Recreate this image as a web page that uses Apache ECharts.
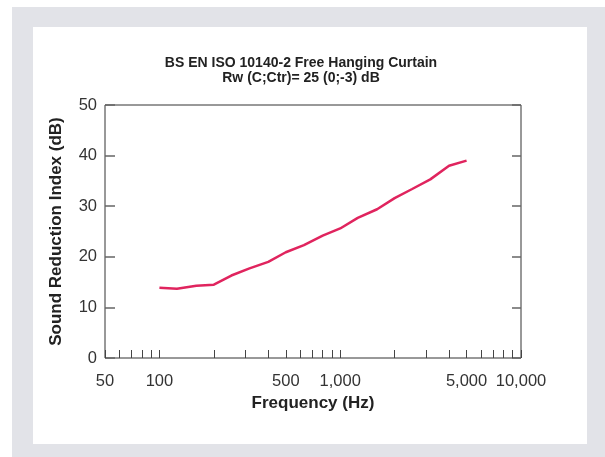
<!DOCTYPE html>
<html>
<head>
<meta charset="utf-8">
<script src="https://cdn.jsdelivr.net/npm/echarts@6/dist/echarts.min.js"></script>
<style>
html,body{margin:0;padding:0;background:#fff;}
#bg{position:absolute;left:12px;top:7px;width:593px;height:450px;background:#e2e3e8;}
#panel{position:absolute;left:33px;top:27px;width:554px;height:417px;background:#fff;}
#chart{position:absolute;left:0;top:0;width:605px;height:457px;}
</style>
</head>
<body>
<div id="bg"></div>
<div id="panel"></div>
<div id="chart"></div>
<script>
const titleLines = ['BS EN ISO 10140-2 Free Hanging Curtain', 'Rw (C;Ctr)= 25 (0;-3) dB'];
const frequencies = [100, 125, 160, 200, 250, 315, 400, 500, 630, 800, 1000, 1250, 1600, 2000, 2500, 3150, 4000, 5000];
const reduction = [13.9, 13.7, 14.3, 14.5, 16.3, 17.7, 19.0, 20.9, 22.3, 24.2, 25.6, 27.7, 29.4, 31.6, 33.4, 35.3, 38.0, 39.0];
const xTickValues = [50, 60, 70, 80, 90, 100, 200, 300, 400, 500, 600, 700, 800, 900, 1000, 2000, 3000, 4000, 5000, 6000, 7000, 8000, 9000, 10000];
const xLabelValues = [50, 100, 500, 1000, 5000, 10000];

const chart = echarts.init(document.getElementById('chart'), null, {renderer: 'canvas'});
const fontFam = '"Liberation Sans", Arial, sans-serif';
chart.setOption({
  backgroundColor: 'transparent',
  animation: false,
  title: {
    text: titleLines.join('\n'),
    left: 296, top: 51, textAlign: 'center',
    textStyle: {fontFamily: fontFam, fontSize: 14, fontWeight: 'bold', color: '#222', lineHeight: 15}
  },
  grid: {left: 105, top: 105, right: 84, bottom: 99, show: true, borderColor: '#333', borderWidth: 1, backgroundColor: 'transparent'},
  xAxis: {
    type: 'log', logBase: 10, min: 50, max: 10000,
    name: 'Frequency (Hz)', nameLocation: 'middle', nameGap: 32,
    nameTextStyle: {fontFamily: fontFam, fontSize: 17, fontWeight: 'bold', color: '#222'},
    axisLine: {show: false},
    axisTick: {show: true, inside: true, length: 8, customValues: xTickValues, lineStyle: {color: '#444', width: 1}},
    axisLabel: {customValues: xLabelValues, margin: 15, fontFamily: fontFam, fontSize: 16.5, color: '#333',
      formatter: v => Number(v).toLocaleString('en-US')},
    splitLine: {show: false}, minorTick: {show: false}
  },
  yAxis: [{
    type: 'value', min: 0, max: 50, interval: 10,
    name: 'Sound Reduction Index (dB)', nameLocation: 'middle', nameGap: 40,
    nameTextStyle: {fontFamily: fontFam, fontSize: 17, fontWeight: 'bold', color: '#222'},
    axisLine: {show: false},
    axisTick: {show: true, inside: true, length: 10, lineStyle: {color: '#666', width: 1.5}},
    axisLabel: {margin: 8, fontFamily: fontFam, fontSize: 16.5, color: '#333'},
    splitLine: {show: false}
  }, {
    type: 'value', min: 0, max: 50, interval: 10, position: 'right',
    axisLine: {show: false},
    axisTick: {show: true, inside: true, length: 9, lineStyle: {color: '#666', width: 1.5}},
    axisLabel: {show: false}, splitLine: {show: false}
  }],
  series: [{
    type: 'line',
    data: frequencies.map((f, i) => [f, reduction[i]]),
    showSymbol: false, symbol: 'none',
    lineStyle: {color: '#e0245e', width: 2.5},
    itemStyle: {color: '#e0245e'}
  }]
});
</script>
</body>
</html>
